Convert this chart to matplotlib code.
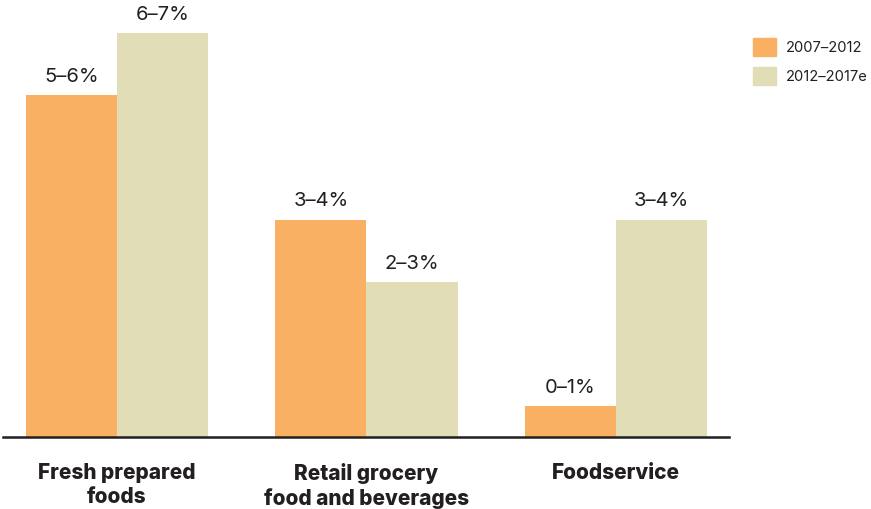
import matplotlib.pyplot as plt
import matplotlib.patches as mpatches
import numpy as np

plt.rcParams['font.family'] = ['Inter', 'DejaVu Sans']

categories = ["Fresh prepared\nfoods", "Retail grocery\nfood and beverages", "Foodservice"]
series = ["2007\u20132012", "2012\u20132017e"]
# growth ranges shown as midpoints
vals_0712 = [5.5, 3.5, 0.5]
vals_1217 = [6.5, 2.5, 3.5]
labels_0712 = ["5\u20136%", "3\u20134%", "0\u20131%"]
labels_1217 = ["6\u20137%", "2\u20133%", "3\u20134%"]

c_orange = '#F9B062'
c_beige = '#E1DDB7'
c_text = '#231F20'

fig = plt.figure(figsize=(8.71, 5.09), dpi=100)
ax = fig.add_axes([3/871, 72/509, 726/871, 435/509])

x = np.arange(len(categories))
w = 0.365
b1 = ax.bar(x - w/2, vals_0712, w, color=c_orange)
b2 = ax.bar(x + w/2, vals_1217, w, color=c_beige)

for bars, labs in [(b1, labels_0712), (b2, labels_1217)]:
    for b, t in zip(bars, labs):
        ax.annotate(t, (b.get_x() + b.get_width()/2, b.get_height()),
                    xytext=(0, 6.5), textcoords='offset points',
                    ha='center', va='bottom', fontsize=14.5, color=c_text)

ax.set_xlim(-0.457, 2.453)
ax.set_ylim(0, 7)
for s in ['top', 'right', 'left']:
    ax.spines[s].set_visible(False)
ax.spines['bottom'].set_color(c_text)
ax.spines['bottom'].set_linewidth(1.8)
ax.set_yticks([])
ax.set_xticks(x)
ax.set_xticklabels(categories, fontsize=15, fontweight=800, color=c_text,
                   linespacing=1.25, va='top')
ax.tick_params(axis='x', length=0, pad=19)

orange_patch = mpatches.Patch(color=c_orange, label=series[0])
beige_patch = mpatches.Patch(color=c_beige, label=series[1])
leg = fig.legend(handles=[orange_patch, beige_patch], loc='upper left',
                 bbox_to_anchor=(741/871, 1 - 26/509), frameon=False,
                 fontsize=10.6, handlelength=1.55, handleheight=1.55,
                 labelspacing=0.7, handletextpad=0.7, borderpad=0.3)
for t in leg.get_texts():
    t.set_color(c_text)

plt.savefig('out.png', dpi=100)
